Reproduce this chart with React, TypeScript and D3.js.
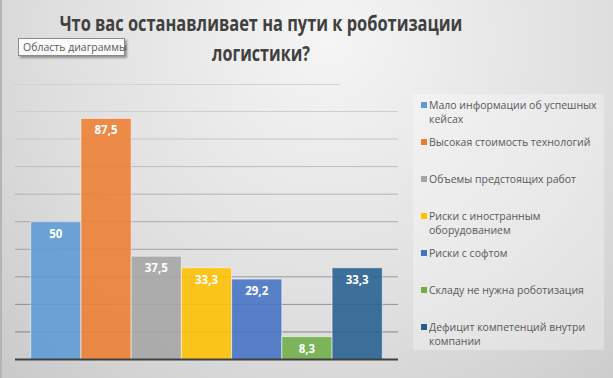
import React, { useLayoutEffect, useRef, useState } from "react";
import * as d3 from "d3";

const categories = [
  "Мало информации об успешных кейсах",
  "Высокая стоимость технологий",
  "Объемы предстоящих работ",
  "Риски с иностранным оборудованием",
  "Риски с софтом",
  "Складу не нужна роботизация",
  "Дефицит компетенций внутри компании",
];
const values = [50, 87.5, 37.5, 33.3, 29.2, 8.3, 33.3];
const colors = ["#5B9BD5", "#ED7D31", "#A5A5A5", "#FFC000", "#4472C4", "#70AD47", "#255E91"];
const legendLines = [
  ["Мало информации об успешных", "кейсах"],
  ["Высокая стоимость технологий"],
  ["Объемы предстоящих работ"],
  ["Риски с иностранным", "оборудованием"],
  ["Риски с софтом"],
  ["Складу не нужна роботизация"],
  ["Дефицит компетенций внутри", "компании"],
];
const legendY = [105, 142, 179, 216, 253, 290, 327];
const yTicks = [0, 10, 20, 30, 40, 50, 60, 70, 80, 90];
const titleLines = ["Что вас останавливает на пути к роботизации", "логистики?"];
const titleWidths = [403, 98];

const W = 613;
const H = 378;

function FitText({ x, y, width, children, ...rest }: any) {
  const ref = useRef<SVGTextElement>(null);
  const [s, setS] = useState(1);
  useLayoutEffect(() => {
    if (ref.current) {
      const w = ref.current.getComputedTextLength();
      if (w > 0) setS(width / w);
    }
  }, [width, children]);
  return (
    <text ref={ref} transform={`translate(${x},${y}) scale(${s},1)`} textAnchor="middle" {...rest}>
      {children}
    </text>
  );
}

export default function App() {
  const x = d3.scaleBand<string>().domain(categories).range([30.7, 382.3]).padding(0);
  const y = d3.scaleLinear().domain([0, 90]).range([359.5, 111.5]);
  const fmt = (v: number) => String(v).replace(".", ",");
  const font = "'Open Sans', 'Noto Sans', sans-serif";

  return (
    <svg width={W} height={H} style={{ position: "absolute", left: 0, top: 0 }} xmlns="http://www.w3.org/2000/svg">
      <defs>
        <radialGradient id="bg" cx="330" cy="40" r="520" gradientUnits="userSpaceOnUse">
          <stop offset="0" stopColor="#f5f5f5" />
          <stop offset="0.55" stopColor="#dedede" />
          <stop offset="1" stopColor="#c4c4c4" />
        </radialGradient>
        <linearGradient id="grid" x1="0" y1="111" x2="0" y2="360" gradientUnits="userSpaceOnUse">
          <stop offset="0" stopColor="#cfcfcf" />
          <stop offset="1" stopColor="#7c7c7c" />
        </linearGradient>
        <filter id="sh" x="-10%" y="-30%" width="130%" height="190%">
          <feDropShadow dx="2" dy="2" stdDeviation="1" floodColor="#000" floodOpacity="0.35" />
        </filter>
      </defs>
      <rect x={0} y={0} width={W} height={H} fill="url(#bg)" />
      <line x1={1} y1={0} x2={1} y2={H} stroke="#b4b4b4" strokeWidth={2} />
      <line x1={13} y1={84.5} x2={340} y2={84.5} stroke="#d2d2d2" strokeWidth={1} />

      {/* title */}
      {titleLines.map((t, i) => (
        <FitText
          key={i}
          x={261}
          y={30.5 + i * 30}
          width={titleWidths[i]}
          fontFamily={font}
          fontWeight={700}
          fontSize={22}
          fill="#404040"
        >
          {t}
        </FitText>
      ))}

      {/* gridlines */}
      {yTicks.slice(1).map((t) => (
        <line key={t} x1={15} x2={398} y1={y(t)} y2={y(t)} stroke="url(#grid)" strokeWidth={1} />
      ))}

      {/* bars */}
      {categories.map((c, i) => (
        <g key={c}>
          <rect
            x={x(c)!}
            y={y(values[i])}
            width={x.bandwidth()}
            height={y(0) - y(values[i])}
            fill={colors[i]}
            fillOpacity={0.88}
            stroke="#ffffff"
            strokeOpacity={0.55}
            strokeWidth={1}
          />
          <text
            x={x(c)! + x.bandwidth() / 2}
            y={y(values[i]) + 16}
            textAnchor="middle"
            fontFamily={font}
            fontWeight={700}
            fontSize={11.5}
            fill="#ffffff"
          >
            {fmt(values[i])}
          </text>
        </g>
      ))}

      {/* axis */}
      <line x1={15} x2={398} y1={y(0)} y2={y(0)} stroke="#404040" strokeWidth={2} />

      {/* legend */}
      <rect x={413} y={94} width={191} height={256} fill="#ffffff" fillOpacity={0.3} />
      {categories.map((c, i) => (
        <g key={"lg" + c}>
          <rect x={421} y={legendY[i] - 3} width={6} height={6} fill={colors[i]} />
          {legendLines[i].map((ln, j) => (
            <text
              key={j}
              x={429}
              y={legendY[i] + 4 + j * 14}
              fontFamily={font}
              fontSize={10.5}
              fill="#595959"
            >
              {ln}
            </text>
          ))}
        </g>
      ))}

      {/* tooltip */}
      <g filter="url(#sh)">
        <rect x={18.5} y={38.5} width={106} height={17} fill="#fbfbfb" stroke="#8a8a8a" strokeWidth={1} />
      </g>
      <text x={23} y={51} fontFamily={font} fontSize={10.5} fill="#5a5a5a">
        Область диаграммы
      </text>
    </svg>
  );
}
